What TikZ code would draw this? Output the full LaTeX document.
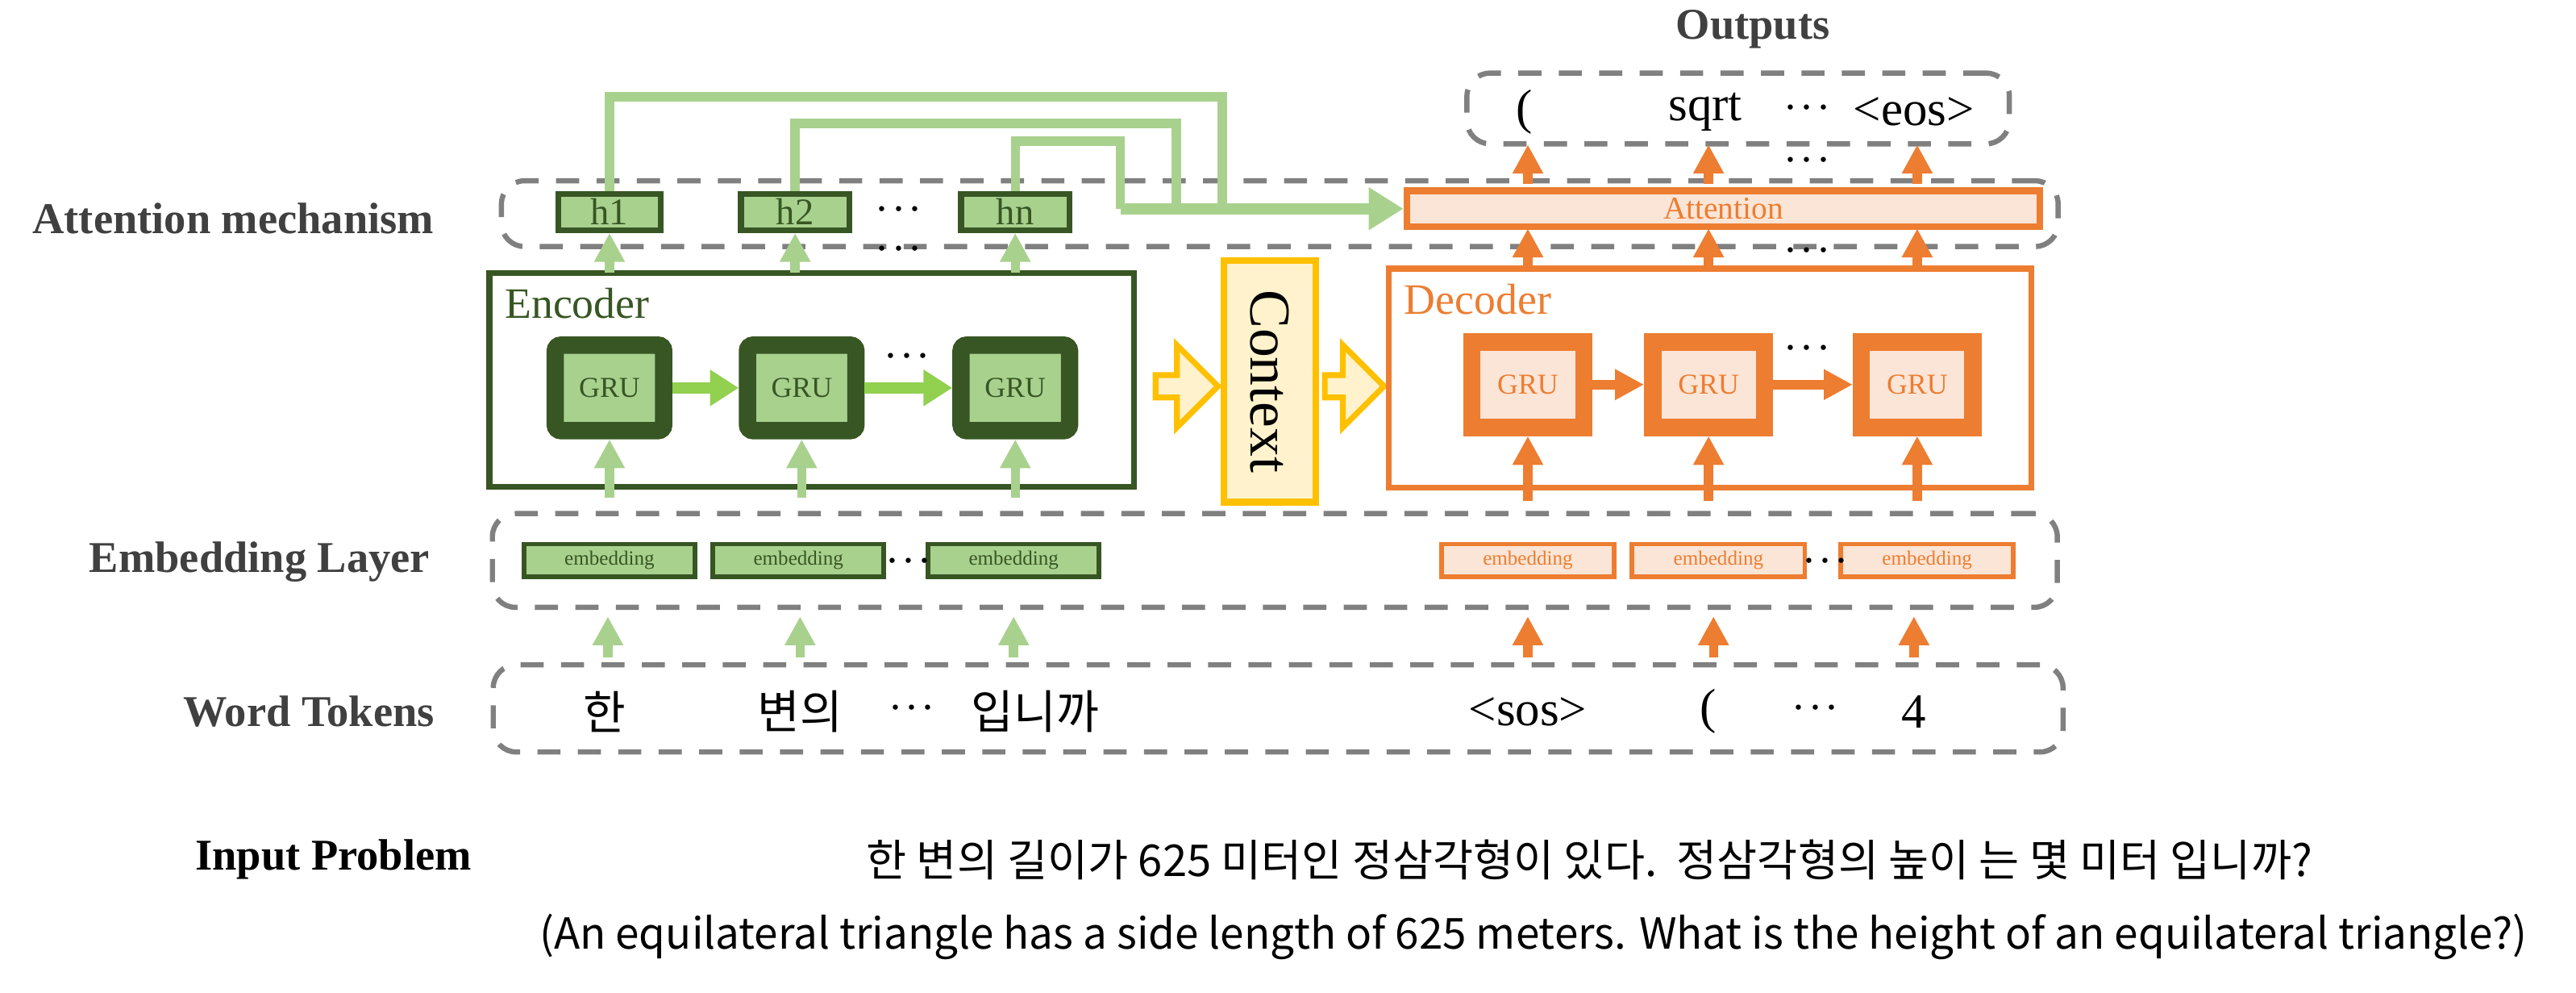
\documentclass[tikz,border=0pt]{standalone}
\usepackage{fontspec}
\setmainfont{Liberation Serif}
\newfontfamily\kr{Noto Sans CJK KR}
\usetikzlibrary{arrows.meta,shapes.arrows}
\definecolor{dg}{HTML}{375623}
\definecolor{lg}{HTML}{A9D18E}
\definecolor{bg}{HTML}{92D050}
\definecolor{org}{HTML}{ED7D31}
\definecolor{lo}{HTML}{FBE5D6}
\definecolor{yb}{HTML}{FFC000}
\definecolor{yf}{HTML}{FFF2CC}
\definecolor{gr}{HTML}{808080}
\definecolor{tx}{HTML}{404040}
\newcommand{\mydots}{$\cdot\!\cdot\!\cdot$}
\begin{document}
\begin{tikzpicture}[x=0.01cm,y=-0.01cm,
 lab/.style={font=\fontsize{7.6}{9}\selectfont\bfseries,text=tx},
 dbox/.style={draw=gr,dashed,line width=0.9pt,rounded corners=4pt,dash pattern=on 4pt off 3pt},
 hbox/.style={draw=dg,fill=lg,line width=1pt,inner sep=0pt,font=\fontsize{6.5}{8}\selectfont,text=dg},
 ggru/.style={draw=dg,fill=lg,line width=3pt,rounded corners=1pt,minimum width=0.66cm,minimum height=0.52cm,inner sep=0pt,font=\fontsize{5}{6}\selectfont,text=dg},
 ogru/.style={draw=org,fill=lo,line width=3pt,minimum width=0.68cm,minimum height=0.52cm,inner sep=0pt,font=\fontsize{5}{6}\selectfont,text=org},
 gemb/.style={draw=dg,fill=lg,line width=0.8pt,minimum width=1.04cm,minimum height=0.2cm,inner sep=0pt,font=\fontsize{3.5}{4}\selectfont,text=dg},
 oemb/.style={draw=org,fill=lo,line width=0.8pt,minimum width=1.05cm,minimum height=0.2cm,inner sep=0pt,font=\fontsize{3.5}{4}\selectfont,text=org},
 garr/.style={draw=lg,line width=1.6pt,-{Triangle[width=5pt,length=5pt]}},
 garr2/.style={draw=bg,line width=2pt,-{Triangle[width=6pt,length=5pt]}},
 oarr/.style={draw=org,line width=1.6pt,-{Triangle[width=5pt,length=5pt]}},
 tok/.style={font=\kr\fontsize{8}{9}\selectfont},
 otok/.style={font=\fontsize{8.5}{10}\selectfont},
 dots/.style={font=\fontsize{8}{9}\selectfont}]
\useasboundingbox (0,0) rectangle (1568,604);
% left labels
\node[lab] (l1) at (142,133) {Attention mechanism};
\node[lab] (l2) at (158,342) {Embedding Layer};
\node[lab] (l3) at (188,433) {Word Tokens};
\node[lab,text=black] (l4) at (203,523) {Input Problem};
\node[lab] (l5) at (1067,18) {Outputs};
% dashed rows
\node[dbox,minimum width=3.3cm,minimum height=0.43cm] (outb) at (1058,66) {};
\node[dbox,minimum width=9.47cm,minimum height=0.4cm] (attb) at (779,130) {};
\node[dbox,minimum width=9.52cm,minimum height=0.57cm] (embb) at (776,341) {};
\node[dbox,minimum width=9.55cm,minimum height=0.53cm] (tokb) at (778,431) {};
% outputs
\node[otok] (o1) at (928,68) {(};
\node[otok] (o2) at (1038,68) {sqrt};
\node[dots] (o3) at (1100,66) {\mydots};
\node[otok] (o4) at (1165,68) {<eos>};
\node[dots] (o5) at (1100,98) {\mydots};
% attention
\node[draw=org,fill=lo,line width=1.2pt,minimum width=3.85cm,minimum height=0.22cm,inner sep=0pt,text=org,font=\fontsize{5.5}{6}\selectfont] (att) at (1049,127) {Attention};
\node[hbox,minimum width=0.62cm,minimum height=0.22cm] (h1) at (371,129) {h1};
\node[hbox,minimum width=0.66cm,minimum height=0.22cm] (h2) at (484,129) {h2};
\node[hbox,minimum width=0.66cm,minimum height=0.22cm] (hn) at (618,129) {hn};
\node[dots] (hd) at (547,128) {\mydots};
\node[dots] (hd2) at (547,152) {\mydots};
\coordinate (c1) at (371,59); \coordinate (c2) at (744,59);
\coordinate (c3) at (484,75); \coordinate (c4) at (716,75);
\coordinate (c5) at (618,86); \coordinate (c6) at (682,86);
\coordinate (c7) at (682,127);
\draw[lg,line width=1.6pt] (h1.north) -- (c1) -- (c2) -- (744,127);
\draw[lg,line width=1.6pt] (h2.north) -- (c3) -- (c4) -- (716,127);
\draw[lg,line width=1.6pt] (hn.north) -- (c5) -- (c6) -- (c7);
\draw[garr,line width=2pt,-{Triangle[width=7pt,length=6pt]}] (c7) -- (att.west);
% encoder
\node[draw=dg,line width=1pt,minimum width=3.92cm,minimum height=1.3cm,inner sep=0pt] (enc) at (494,231) {};
\node[anchor=north west,text=dg,font=\fontsize{7.5}{9}\selectfont,inner sep=3pt] (encl) at (enc.north west) {Encoder};
\node[ggru] (g1) at (371,236) {GRU};
\node[ggru] (g2) at (488,236) {GRU};
\node[ggru] (g3) at (618,236) {GRU};
\draw[garr2] (g1) -- (g2);
\draw[garr2] (g2) -- (g3);
\node[dots] (gd) at (552,217) {\mydots};
\foreach \a/\b in {h1/371,h2/484,hn/618}{
 \coordinate (t\a) at (\b,166);
 \draw[garr] (t\a) -- (\a.south);}
% context
\node[draw=yb,fill=yf,line width=1.2pt,minimum width=0.56cm,minimum height=1.47cm,inner sep=0pt] (ctx) at (773,232) {};
\node[rotate=-90,font=\fontsize{10}{12}\selectfont] (ctxl) at (ctx.center) {Context};
\node[single arrow,draw=yb,fill=yf,line width=1pt,minimum height=0.38cm,minimum width=0.5cm,single arrow head extend=4pt,inner sep=1pt] (ba1) at (719,235) {};
\node[single arrow,draw=yb,fill=yf,line width=1pt,minimum height=0.36cm,minimum width=0.5cm,single arrow head extend=4pt,inner sep=1pt] (ba2) at (821,235) {};
% decoder
\node[draw=org,line width=1pt,minimum width=3.91cm,minimum height=1.33cm,inner sep=0pt] (dec) at (1041,230) {};
\node[anchor=north west,text=org,font=\fontsize{7.5}{9}\selectfont,inner sep=3pt] (decl) at (dec.north west) {Decoder};
\node[ogru] (d1) at (930,234) {GRU};
\node[ogru] (d2) at (1040,234) {GRU};
\node[ogru] (d3) at (1167,234) {GRU};
\draw[oarr] (d1) -- (d2);
\draw[oarr] (d2) -- (d3);
\node[dots] (dd) at (1100,212) {\mydots};
\node[dots] (dd2) at (1100,153) {\mydots};
\foreach \x in {930,1040,1167}{
 \coordinate (u\x) at (\x,163);
 \draw[oarr] (u\x) -- (\x,139);}
\foreach \x/\o in {930/o1,1040/o2,1167/o4}{
 \coordinate (v\x) at (\x,112);
 \draw[oarr] (v\x) -- (\x,88);}
% embeddings
\node[gemb] (e1) at (371,341) {embedding};
\node[gemb] (e2) at (486,341) {embedding};
\node[gemb] (e3) at (617,341) {embedding};
\node[dots] (ed) at (553,342) {\mydots};
\node[oemb] (f1) at (930,341) {embedding};
\node[oemb] (f2) at (1046,341) {embedding};
\node[oemb] (f3) at (1173,341) {embedding};
\node[dots] (fd) at (1111,342) {\mydots};
\foreach \g/\x in {g1/371,g2/488,g3/618}{
 \coordinate (s\g) at (\x,303);
 \draw[garr] (s\g) -- (\g.south);}
\foreach \g/\x in {d1/930,d2/1040,d3/1167}{
 \coordinate (s\g) at (\x,305);
 \draw[oarr] (s\g) -- (\g.south);}
% tokens
\node[tok] (k1) at (368,433) {한};
\node[tok] (k2) at (487,433) {변의};
\node[dots] (k3) at (555,431) {\mydots};
\node[tok] (k4) at (630,433) {입니까};
\node[otok] (k5) at (930,433) {<sos>};
\node[otok] (k6) at (1040,433) {(};
\node[dots] (k7) at (1105,431) {\mydots};
\node[otok] (k8) at (1165,433) {4};
\foreach \x in {370,487,617}{\coordinate (w\x) at (\x,400); \draw[garr] (w\x) -- (\x,375);}
\foreach \x in {930,1043,1165}{\coordinate (w\x) at (\x,400); \draw[oarr] (w\x) -- (\x,375);}
% input problem
\node[anchor=west,font=\kr\fontsize{7.6}{9}\selectfont] (ip1) at (515,523) {한 변의 길이가 625 미터인 정삼각형이 있다.\ \ 정삼각형의 높이 는 몇 미터 입니까?};
\node[anchor=west,font=\kr\fontsize{7.4}{9}\selectfont] (ip2) at (316,570) {(An equilateral triangle has a side length of 625 meters. What is the height of an equilateral triangle?)};
\end{tikzpicture}
\end{document}
